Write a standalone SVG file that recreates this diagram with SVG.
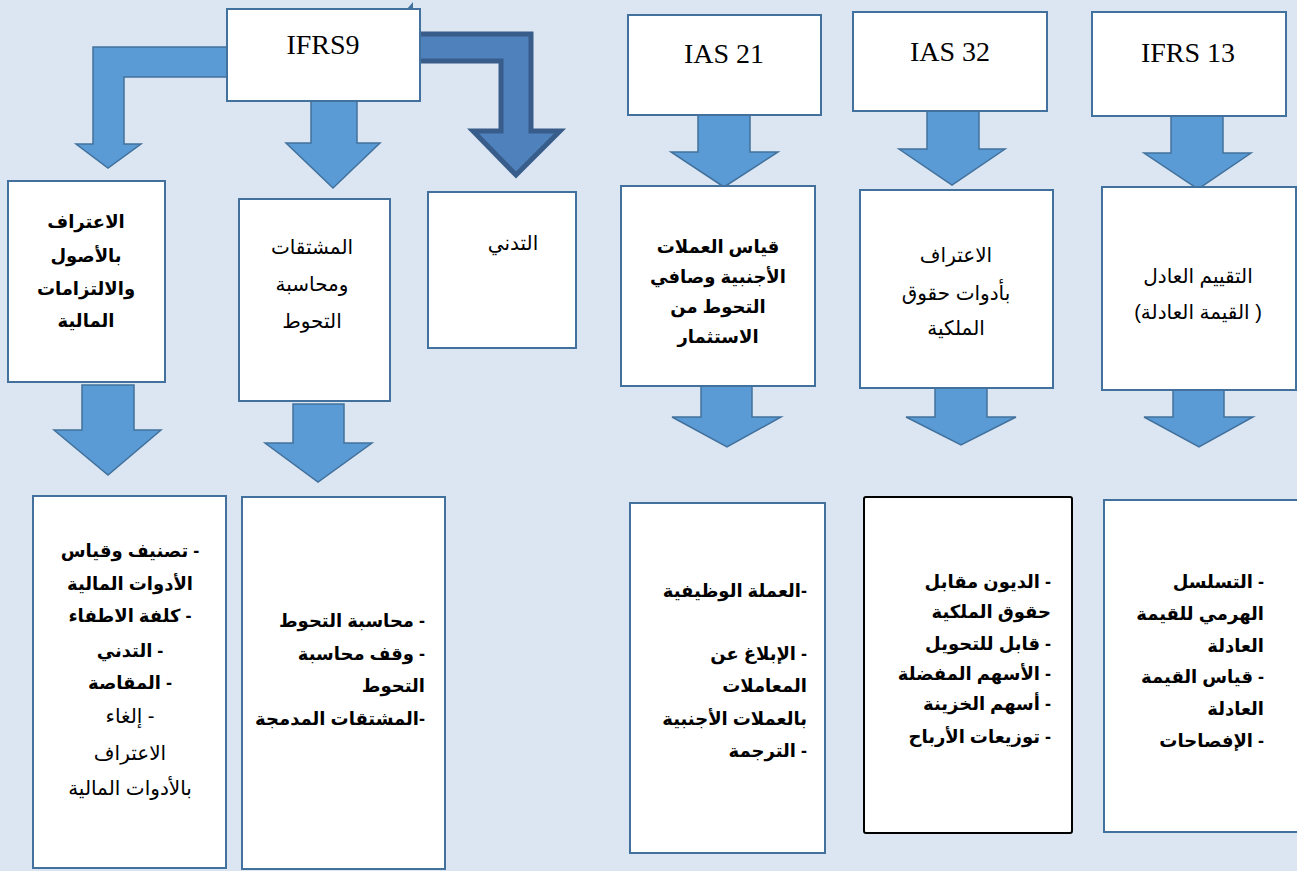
<svg xmlns="http://www.w3.org/2000/svg" width="1297" height="871" viewBox="0 0 1297 871">
<style>
.box{fill:#fff;stroke:#41719C;stroke-width:2}
.boxk{fill:#fff;stroke:#000;stroke-width:2}
.arr{fill:#5B9BD5;stroke:#41719C;stroke-width:1.5;stroke-linejoin:miter}
.arrd{fill:#4F81BD;stroke:#385D8A;stroke-width:5;stroke-linejoin:miter}
.en{font-family:"Liberation Serif","Times New Roman",serif;font-size:28px;fill:#000;text-anchor:middle}
.ar{font-family:"Liberation Sans","DejaVu Sans",sans-serif;font-size:20px;fill:#000;direction:rtl}
.b{font-weight:bold;font-size:18px}
.c{text-anchor:middle}
.r{text-anchor:start}
</style>
<rect width="1297" height="871" fill="#DCE6F2"/>
<g id="connectors">
<polygon class="arr" points="232,47 93,47 93,144 76,144 108,168 141,144 124,144 124,77 232,77"/>
<polygon class="arr" points="311,98 357,98 357,143 380,143 333,188 286,143 311,143"/>
<polygon class="arrd" points="416,34 531,34 531,131 560,131 516,175 473,131 501,131 501,61 416,61"/>
<polygon class="arr" points="82,385 134,385 134,430 161,430 108,475 54,430 82,430"/>
<polygon class="arr" points="293,404 344,404 344,443 372,443 318,482 265,443 293,443"/>
<polygon class="arr" points="698,115 750,115 750,152 778,152 724,187 671,152 698,152"/>
<polygon class="arr" points="927,111 979,111 979,149 1005,149 952,185 899,149 927,149"/>
<polygon class="arr" points="1171,116 1223,116 1223,153 1251,153 1198,189 1144,153 1171,153"/>
<polygon class="arr" points="701,386 752,386 752,417 781,417 727,447 672,417 701,417"/>
<polygon class="arr" points="935,388 987,388 987,417 1016,417 961,445 906,417 935,417"/>
<polygon class="arr" points="1173,390 1224,390 1224,417 1253,417 1199,447 1144,417 1173,417"/>
</g>
<g id="ifrs9">
<rect class="box" x="227" y="9" width="193" height="92"/>
<polygon points="407,9 413,9 413,2" fill="#41719C"/>
<text class="en" x="323" y="54">IFRS9</text>
</g>
<g id="ias21">
<rect class="box" x="628" y="15" width="193" height="100"/>
<text class="en" x="724" y="63">IAS 21</text>
</g>
<g id="ias32">
<rect class="box" x="853" y="12" width="194" height="99"/>
<text class="en" x="950" y="61">IAS 32</text>
</g>
<g id="ifrs13">
<rect class="box" x="1092" y="12" width="194" height="104"/>
<text class="en" x="1188" y="62">IFRS 13</text>
</g>
<g id="recognition">
<rect class="box" x="8" y="181" width="157" height="201"/>
<text class="ar b c" x="86" y="228">الاعتراف</text>
<text class="ar b c" x="86" y="262">بالأصول</text>
<text class="ar b c" x="86" y="295">والالتزامات</text>
<text class="ar b c" x="86" y="327">المالية</text>
</g>
<g id="derivatives">
<rect class="box" x="239" y="199" width="151" height="202"/>
<text class="ar c" x="312" y="254">المشتقات</text>
<text class="ar c" x="312" y="291">ومحاسبة</text>
<text class="ar c" x="312" y="328">التحوط</text>
</g>
<g id="impairment">
<rect class="box" x="428" y="192" width="148" height="156"/>
<text class="ar c" x="513" y="250">التدني</text>
</g>
<g id="fx">
<rect class="box" x="621" y="186" width="194" height="200"/>
<text class="ar b c" x="718" y="253">قياس العملات</text>
<text class="ar b c" x="718" y="283">الأجنبية وصافي</text>
<text class="ar b c" x="718" y="313">التحوط من</text>
<text class="ar b c" x="718" y="343">الاستثمار</text>
</g>
<g id="equity">
<rect class="box" x="860" y="190" width="193" height="198"/>
<text class="ar c" x="956" y="262">الاعتراف</text>
<text class="ar c" x="956" y="300">بأدوات حقوق</text>
<text class="ar c" x="956" y="335">الملكية</text>
</g>
<g id="fairvalue">
<rect class="box" x="1102" y="187" width="194" height="203"/>
<text class="ar c" x="1198" y="283">التقييم العادل</text>
<text class="ar c" x="1198" y="319">( القيمة العادلة)</text>
</g>
<g id="ifrs9-items1">
<rect class="box" x="33" y="496" width="193" height="372"/>
<text class="ar b c" x="130" y="557">- تصنيف وقياس</text>
<text class="ar b c" x="130" y="590">الأدوات المالية</text>
<text class="ar b c" x="130" y="622">- كلفة الاطفاء</text>
<text class="ar b c" x="130" y="657">- التدني</text>
<text class="ar b c" x="130" y="689">- المقاصة</text>
<text class="ar c" x="130" y="723">- إلغاء</text>
<text class="ar c" x="130" y="760">الاعتراف</text>
<text class="ar c" x="130" y="795">بالأدوات المالية</text>
</g>
<g id="ifrs9-items2">
<rect class="box" x="242" y="497" width="203" height="372"/>
<text class="ar b r" x="425" y="627">- محاسبة التحوط</text>
<text class="ar b r" x="425" y="660">- وقف محاسبة</text>
<text class="ar b r" x="425" y="692">التحوط</text>
<text class="ar b r" x="425" y="725">-المشتقات المدمجة</text>
</g>
<g id="ias21-items">
<rect class="box" x="630" y="503" width="195" height="350"/>
<text class="ar b r" x="807" y="597">-العملة الوظيفية</text>
<text class="ar b r" x="807" y="660">- الإبلاغ عن</text>
<text class="ar b r" x="807" y="692">المعاملات</text>
<text class="ar b r" x="807" y="725">بالعملات الأجنبية</text>
<text class="ar b r" x="807" y="757">- الترجمة</text>
</g>
<g id="ias32-items">
<rect class="boxk" x="864" y="497" width="208" height="336" rx="2"/>
<text class="ar b r" x="1051" y="588">- الديون مقابل</text>
<text class="ar b r" x="1051" y="618">حقوق الملكية</text>
<text class="ar b r" x="1051" y="650">- قابل للتحويل</text>
<text class="ar b r" x="1051" y="680">- الأسهم المفضلة</text>
<text class="ar b r" x="1051" y="710">- أسهم الخزينة</text>
<text class="ar b r" x="1051" y="743">- توزيعات الأرباح</text>
</g>
<g id="ifrs13-items">
<rect class="box" x="1104" y="500" width="196" height="332"/>
<text class="ar b r" x="1264" y="588">- التسلسل</text>
<text class="ar b r" x="1264" y="620">الهرمي للقيمة</text>
<text class="ar b r" x="1264" y="652">العادلة</text>
<text class="ar b r" x="1264" y="683">- قياس القيمة</text>
<text class="ar b r" x="1264" y="715">العادلة</text>
<text class="ar b r" x="1264" y="747">- الإفصاحات</text>
</g>
</svg>
